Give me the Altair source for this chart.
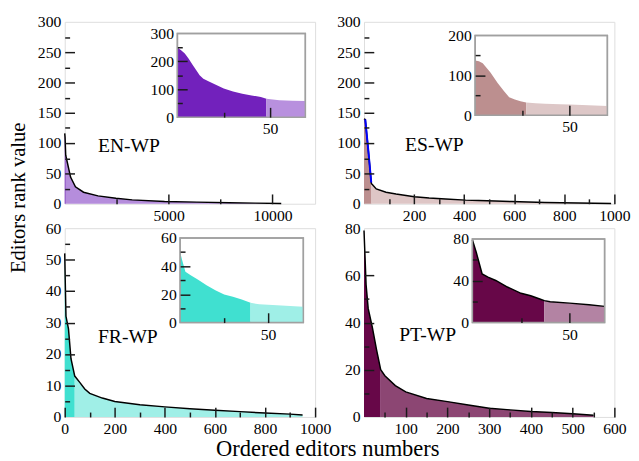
import altair as alt
import pandas as pd

FONT = "Liberation Serif"
FRAME = "#a0a0a0"
TICK = "#1a1a1a"

# ---------------- data ----------------
en_x = [0, 15, 48, 125, 281, 515, 905, 1600, 2465, 3245, 4805, 6365, 7925, 9170, 10420]
en_y = [116, 110, 80, 68, 44, 28, 19, 13, 9, 6.4, 3.7, 2.7, 1.6, 1.0, 0.5]
en_ix = [0, 2, 4, 6, 8, 10, 12, 14, 17, 21, 25, 30, 35, 40, 45, 48, 55, 62, 69]
en_iy = [250, 240, 228, 210, 190, 170, 150, 138, 128, 115, 103, 92, 84, 78, 72, 66, 61, 59, 58]

es_x = [0, 5, 17, 29, 30, 35, 49, 88, 128, 201, 260, 326, 406, 458, 524, 590, 656, 722, 788, 855, 921, 987]
es_y = [140, 139, 89, 35, 33, 31, 24.5, 19, 16, 11.5, 9.5, 8, 6, 5.2, 4.4, 3.7, 2.8, 2.1, 1.5, 1.1, 0.8, 0.5]
es_ix = [0, 2, 4, 8, 12, 15, 18, 21, 24, 27, 32, 37, 45, 50, 60, 70]
es_iy = [137, 135, 130, 108, 80, 62, 45, 39, 35, 32, 30, 28.5, 27.5, 27, 25, 23]

fr_x = [0, 2, 5, 15, 25, 40, 60, 80, 100, 150, 200, 300, 400, 500, 600, 700, 800, 900, 950]
fr_y = [52, 43.5, 32, 28, 18.5, 13, 11, 8.9, 7.5, 6, 4.9, 3.9, 3.2, 2.6, 2.1, 1.7, 1.25, 0.9, 0.6]
fr_ix = [0, 1, 3, 6, 10, 15, 20, 25, 30, 35, 40, 45, 50, 60, 70]
fr_iy = [50, 45, 36, 33.5, 30.5, 26.5, 23, 20, 18.3, 16.4, 14, 13, 12.6, 12, 11.2]

pt_x = [0, 2, 5, 10, 20, 30, 40, 50, 75, 100, 150, 200, 250, 300, 350, 400, 450, 500, 550]
pt_y = [79, 70, 56, 46, 38, 28.5, 20, 17.5, 13.3, 10.6, 7.8, 6.5, 5.1, 3.7, 3, 2.3, 1.9, 1.4, 0.7]
pt_ix = [0, 2, 5, 8, 12, 18, 25, 30, 35, 37, 40, 50, 60, 68]
pt_iy = [79, 67, 46.5, 43.4, 40.3, 34, 28, 25.7, 22.3, 21, 20, 18.6, 17, 15.5]

labels = ["EN-WP", "ES-WP", "FR-WP", "PT-WP"]

W = 256
H_TOP = 186
H_BOT = 193

PANELS = [
    dict(name=labels[0], x=en_x, y=en_y, ix=en_ix, iy=en_iy, H=H_TOP,
         color="#7221bc", light="#b58ddc", ilight="#b890de", thr=48, ithr=48,
         xdom=[0, 12050], xlab=[5000, 10000], xmaj=[5000, 10000], xmin=[2500, 7500],
         ydom=[0, 300], ylab=[0, 50, 100, 150, 200, 250, 300], ymaj=[50, 100, 150, 200, 250],
         ymin=[25, 75, 125, 175, 225, 275],
         ixdom=[0, 69], iydom=[0, 300], iylab=[0, 100, 200, 300], iymaj=[100, 200], iymin=[50, 150, 250],
         ibox=(0.45, 0.961, 0.064, 0.524), lx=34, ly=133, blue=None, iline=False),
    dict(name=labels[1], x=es_x, y=es_y, ix=es_ix, iy=es_iy, H=H_TOP,
         color="#bc8f8f", light="#dec6c6", ilight="#ddc7c7", thr=30, ithr=27,
         xdom=[0, 1000], xlab=[200, 400, 600, 800, 1000], xmaj=[200, 400, 600, 800, 1000],
         xmin=[100, 300, 500, 700, 900],
         ydom=[0, 300], ylab=[0, 50, 100, 150, 200, 250, 300], ymaj=[50, 100, 150, 200, 250],
         ymin=[25, 75, 125, 175, 225, 275],
         ixdom=[0, 70], iydom=[0, 200], iylab=[0, 100, 200], iymaj=[100], iymin=[50, 150],
         ibox=(0.444, 0.972, 0.075, 0.513), lx=42, ly=132, blue=(5, 29), iline=False),
    dict(name=labels[2], x=fr_x, y=fr_y, ix=fr_ix, iy=fr_iy, H=H_BOT,
         color="#40e0d0", light="#a0efe7", ilight="#9fefe7", thr=40, ithr=40,
         xdom=[0, 1000], xlab=[0, 200, 400, 600, 800, 1000], xmaj=[0, 200, 400, 600, 800, 1000],
         xmin=[100, 300, 500, 700, 900],
         ydom=[0, 60], ylab=[0, 10, 20, 30, 40, 50, 60], ymaj=[10, 20, 30, 40, 50],
         ymin=[5, 15, 25, 35, 45, 55],
         ixdom=[0, 70], iydom=[0, 60], iylab=[0, 20, 40, 60], iymaj=[20, 40], iymin=[10, 30, 50],
         ibox=(0.461, 0.953, 0.052, 0.5), lx=34, ly=117, blue=None, iline=False),
    dict(name=labels[3], x=pt_x, y=pt_y, ix=pt_ix, iy=pt_iy, H=H_BOT,
         color="#670748", light="#8c4673", ilight="#b383a3", thr=40, ithr=37,
         xdom=[0, 600], xlab=[100, 200, 300, 400, 500, 600], xmaj=[100, 200, 300, 400, 500, 600],
         xmin=[50, 150, 250, 350, 450, 550],
         ydom=[0, 80], ylab=[0, 20, 40, 60, 80], ymaj=[20, 40, 60], ymin=[10, 30, 50, 70],
         ixdom=[0, 68], iydom=[0, 80], iylab=[0, 40, 80], iymaj=[40], iymin=[20, 60],
         ibox=(0.433, 0.961, 0.057, 0.5), lx=36, ly=115, blue=None, iline=True),
]


def axis_set(orient, labs, major, minor, base):
    common = dict(orient=orient, grid=False, domain=False, title=None, zindex=2)
    a = alt.Axis(values=labs, ticks=False, tickSize=0, labels=True, labelFont=FONT,
                 labelFontSize=16, labelColor="black", labelPadding=4, labelOverlap=False,
                 labelFlush=False, format="d", offset=base, **common)
    b = alt.Axis(values=major, ticks=True, tickSize=10, tickWidth=1.5, tickColor=TICK,
                 labels=False, offset=base - 10, **common)
    c = alt.Axis(values=minor, ticks=True, tickSize=5, tickWidth=1.5, tickColor=TICK,
                 labels=False, offset=base - 5, **common)
    return a, b, c


def panel(p):
    H = p["H"]
    df = pd.DataFrame({"x": p["x"], "y": p["y"]})
    idf = pd.DataFrame({"x": p["ix"], "y": p["iy"]})

    xs = alt.Scale(domain=p["xdom"], nice=False, zero=False)
    ys = alt.Scale(domain=p["ydom"], nice=False, zero=False)
    xa, xb, xc = axis_set("bottom", p["xlab"], p["xmaj"], p["xmin"], 0)
    ya, yb, yc = axis_set("left", p["ylab"], p["ymaj"], p["ymin"], 0)

    base = alt.Chart(df)
    solid = base.transform_filter(alt.datum.x <= p["thr"]).mark_area(color=p["color"]).encode(
        x=alt.X("x:Q", scale=xs, axis=xa), y=alt.Y("y:Q", scale=ys, axis=ya))
    light = base.transform_filter(alt.datum.x >= p["thr"]).mark_area(color=p["light"]).encode(
        x=alt.X("x:Q", scale=xs, axis=xb), y=alt.Y("y:Q", scale=ys, axis=yb))
    line = base.mark_line(color="black", strokeWidth=1.5).encode(
        x=alt.X("x:Q", scale=xs, axis=xc), y=alt.Y("y:Q", scale=ys, axis=yc))
    layers = [solid, light, line]
    if p["blue"]:
        lo, hi = p["blue"]
        layers.append(base.transform_filter((alt.datum.x >= lo) & (alt.datum.x <= hi))
                      .mark_line(color="#0000ff", strokeWidth=2)
                      .encode(x=alt.X("x:Q", scale=xs, axis=None), y=alt.Y("y:Q", scale=ys, axis=None)))
    label = alt.Chart(pd.DataFrame({"t": [p["name"]]})).mark_text(
        font=FONT, fontSize=20, align="left", baseline="alphabetic", color="black").encode(
        text="t:N", x=alt.value(p["lx"]), y=alt.value(p["ly"]))
    layers.append(label)
    main = alt.layer(*layers).resolve_axis(x="independent", y="independent")

    fx0, fx1, fy0, fy1 = p["ibox"]
    x0, x1 = fx0 * W, fx1 * W
    ytop, ybot = fy0 * H, fy1 * H
    ixs = alt.Scale(domain=p["ixdom"], range=[x0, x1], nice=False, zero=False)
    iys = alt.Scale(domain=p["iydom"], range=[ybot, ytop], nice=False, zero=False)
    ixa, ixb, ixc = axis_set("bottom", [50], [50], [25], -(H - ybot))
    iya, iyb, iyc = axis_set("left", p["iylab"], p["iymaj"], p["iymin"], -x0)

    bdf = pd.DataFrame({"x0": [p["ixdom"][0]], "x1": [p["ixdom"][1]],
                        "y0": [p["iydom"][0]], "y1": [p["iydom"][1]]})
    box = alt.Chart(bdf).mark_rect(fill="white", stroke=FRAME, strokeWidth=1.5).encode(
        x=alt.X("x0:Q", scale=ixs, axis=ixa), x2="x1:Q",
        y=alt.Y("y0:Q", scale=iys, axis=iya), y2="y1:Q")
    ibase = alt.Chart(idf)
    isolid = ibase.transform_filter(alt.datum.x <= p["ithr"]).mark_area(color=p["color"]).encode(
        x=alt.X("x:Q", scale=ixs, axis=ixb), y=alt.Y("y:Q", scale=iys, axis=iyb))
    ichk = ibase.transform_filter(alt.datum.x >= p["ithr"]).mark_area(color=p["ilight"]).encode(
        x=alt.X("x:Q", scale=ixs, axis=ixc), y=alt.Y("y:Q", scale=iys, axis=iyc))
    ilayers = [box, isolid, ichk]
    if p["iline"]:
        ilayers.append(ibase.mark_line(color="black", strokeWidth=1.5).encode(
            x=alt.X("x:Q", scale=ixs, axis=None), y=alt.Y("y:Q", scale=iys, axis=None)))
    frame = alt.Chart(bdf).mark_rect(fillOpacity=0, stroke=FRAME, strokeWidth=1.5).encode(
        x=alt.X("x0:Q", scale=ixs, axis=None), x2="x1:Q",
        y=alt.Y("y0:Q", scale=iys, axis=None), y2="y1:Q")
    ilayers.append(frame)
    inset = alt.layer(*ilayers).resolve_axis(x="independent", y="independent")

    return alt.layer(main, inset).resolve_scale(x="independent", y="independent").properties(
        width=W, height=H)


charts = [panel(p) for p in PANELS]

grid = alt.concat(*charts, columns=2, spacing={"row": 25, "column": 50},
                  bounds="flush", align="each").properties(
    title=alt.TitleParams("Ordered editors numbers", orient="bottom", anchor="middle",
                          font=FONT, fontSize=23, fontWeight="normal", color="black",
                          offset=1, dx=-6))

chart = alt.hconcat(grid).properties(
    padding=0,
    title=alt.TitleParams("Editors rank value", orient="left", anchor="middle",
                          font=FONT, fontSize=21, fontWeight="normal", color="black",
                          offset=8, dx=40)
).configure_view(stroke=FRAME, strokeWidth=1.5).configure_axis(
    labelFont=FONT, labelFontSize=16).configure(background="white")

chart.save("out.html", embed_options={"renderer": "svg", "actions": False})
